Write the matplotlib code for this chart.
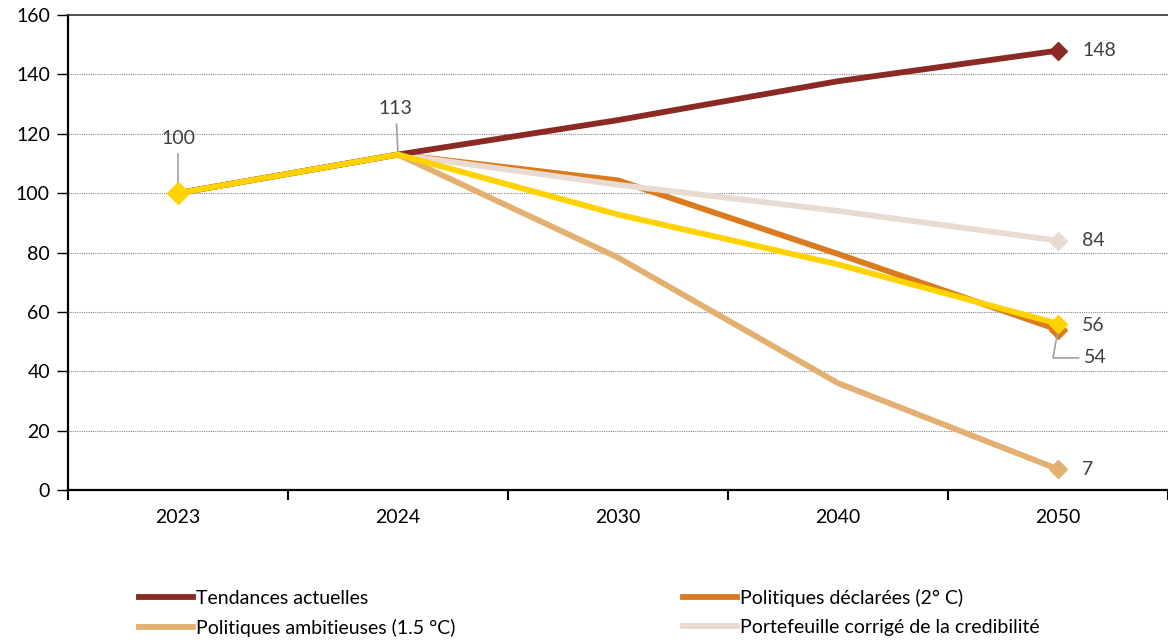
import numpy as np
import matplotlib.pyplot as plt

plt.rcParams['font.family'] = ['Lato', 'DejaVu Sans']

years = ['2023', '2024', '2030', '2040', '2050']
tendances = [100, 113, 124.6, 137.7, 148]
declarees = [100, 113, 104.3, 79.5, 54]
ambitieuses = [100, 113, 78.3, 36, 7]
portefeuille = [100, 113, 102.8, 94, 84]
jaune = [100, 113, 92.8, 76, 56]

names = ['Tendances actuelles', 'Politiques déclarées (2° C)',
         'Politiques ambitieuses (1.5 °C)', 'Portefeuille corrigé de la credibilité']
colors = ['#8B2A24', '#D97B1E', '#E3B071', '#E9DBD1', '#FFD200']

x = np.arange(len(years))
fig = plt.figure(figsize=(11.68, 6.44), dpi=100)
ax = fig.add_axes([68/1168, 1 - 490/644, 1 - 68/1168, 475/644])

series = [tendances, declarees, ambitieuses, portefeuille, jaune]
labels = names + [None]
lines = []
for vals, c, lab, z in zip(series, colors, labels, [3, 2, 2.5, 2.8, 4]):
    l, = ax.plot(x, vals, color=c, lw=4.2, label=lab, zorder=z, solid_joinstyle='miter')
    ax.plot(x[-1], vals[-1], marker='D', ms=9, color=c, zorder=z, mec=c)
    lines.append(l)
ax.plot(x[0], jaune[0], marker='D', ms=11, color=colors[4], zorder=5)

ax.set_ylim(0, 160)
ax.set_xlim(-0.5, -0.5 + 1100/221)
ax.set_yticks(range(0, 161, 20))
ax.set_xticks(x)
ax.set_xticklabels(years)
ax.set_xticks(np.arange(-0.5, 5, 1), minor=True)
ax.tick_params(axis='x', which='major', length=0, pad=14, labelsize=14)
ax.tick_params(axis='x', which='minor', length=7, width=1.5, direction='out')
ax.tick_params(axis='y', length=8, width=1, direction='out', labelsize=14, pad=5)
for yv in range(20, 160, 20):
    ax.axhline(yv, color='#888888', lw=0.8, ls=(0, (1, 1)), zorder=0)
ax.spines['right'].set_visible(False)
ax.spines['top'].set_color('#333333')
ax.spines['top'].set_linewidth(1.2)
ax.spines['left'].set_linewidth(1.6)
ax.spines['bottom'].set_linewidth(1.6)

lc = '#404040'
gl = dict(arrowstyle='-', color='#A0A0A0', lw=1.2, shrinkA=3, shrinkB=0)
ax.annotate('100', xy=(0, 100), xytext=(0, 118.5), ha='center', va='center',
            fontsize=14, color=lc, arrowprops=gl)
ax.annotate('113', xy=(1, 113), xytext=(0.99, 128.5), ha='center', va='center',
            fontsize=14, color=lc, arrowprops=gl)
for v, yy in [(148, 148), (84, 84), (56, 55.5), (7, 7)]:
    ax.text(4.11, yy, str(v), ha='left', va='center', fontsize=14, color=lc)
ax.annotate('54', xy=(4, 54), xytext=(4.12, 44.5), ha='left', va='center',
            fontsize=14, color=lc,
            arrowprops=dict(arrowstyle='-', color='#A0A0A0', lw=1.2, shrinkA=2, shrinkB=0,
                            connectionstyle='angle,angleA=0,angleB=80,rad=0'))

order = [0, 2, 1, 3]
fig.legend([lines[i] for i in order], [names[i] for i in order], ncol=2,
           loc='lower left', bbox_to_anchor=(125/1168, -0.01), frameon=False,
           fontsize=14, handlelength=2.8, handletextpad=0.15, columnspacing=11.7,
           labelspacing=0.6, borderpad=0.2)

fig.savefig('out.png', dpi=100)
